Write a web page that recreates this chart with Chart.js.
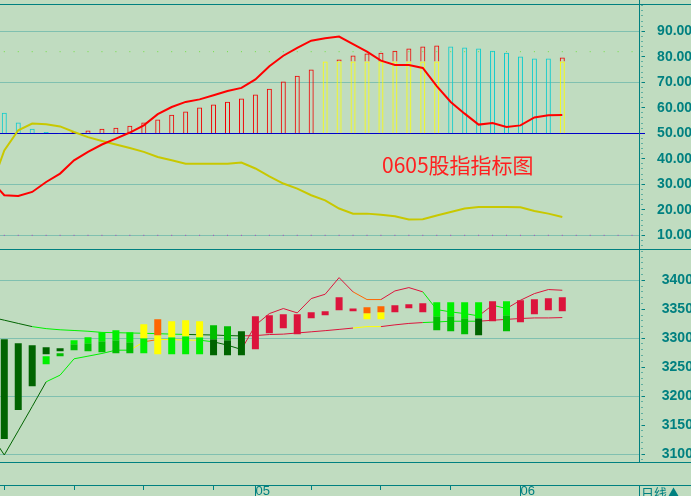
<!DOCTYPE html>
<html><head><meta charset="utf-8">
<script src="https://cdn.jsdelivr.net/npm/chart.js@4.4.1/dist/chart.umd.min.js"></script>
<style>
html,body{margin:0;padding:0;background:#C0DCC0;width:691px;height:496px;overflow:hidden;position:relative;}
canvas{position:absolute;left:0;}
.hl{position:absolute;left:0;width:691px;height:1px;background:#008080;}
.vl{position:absolute;left:639px;width:1px;background:#008080;}
#title{position:absolute;left:382px;top:154px;font:21px "Noto Sans CJK SC";color:#FF2020;white-space:nowrap;line-height:1;}
#period{position:absolute;left:641px;top:486px;font:13px "Noto Sans CJK SC";color:#008080;white-space:nowrap;line-height:1;}
</style></head>
<body>
<canvas id="cA" width="691" height="249" style="top:0"></canvas>
<canvas id="cB" width="691" height="212" style="top:250px"></canvas>
<canvas id="cC" width="691" height="34" style="top:462px"></canvas>
<div class="hl" style="top:4px"></div>
<div class="hl" style="top:249px"></div>
<div class="hl" style="top:462px"></div>
<div class="hl" style="top:485px"></div>
<div class="vl" style="top:0;height:462px"></div>
<div class="vl" style="top:485px;height:11px"></div>
<div id="title">0605股指指标图</div>
<div id="period">日线▲</div>
<script>
// ---------- DATA ----------
const barIdx  = [0,1,2,3,4,5,6,7,8,9,10,11,12,13,14,15,16,17,18,19,20,21,22,23,24,25,26,27,28,29,30,31,32,33,34,35,36,37,38,39,40];
const lineIdx = [-1].concat(barIdx);

// upper panel: oscillator bars (base 50) and two lines
const oscBars = [58.1,54.2,51.8,50.5,50.1,50.5,51.1,51.8,52.2,53.0,54.2,55.4,57.3,58.5,60.1,61.3,62.4,63.6,65.2,67.5,70.3,72.6,75.0,78.1,78.9,80.5,81.3,81.6,82.4,83.2,84.0,84.4,84.0,83.6,83.2,82.4,81.6,80.1,79.3,79.3,79.7];
const kLine = [31.9,25.7,25.4,27.0,30.9,34.2,39.4,42.7,45.6,47.9,50.3,53.1,57.5,60.3,62.3,63.3,64.9,66.6,67.8,71.1,76.3,80.4,83.5,86.3,87.3,87.9,85.0,82.0,78.5,76.8,76.8,75.6,68.5,62.3,57.7,53.4,54.0,52.5,53.1,56.2,57.1,57.2];
const dLine = [28.0,43.3,51.2,53.8,53.5,52.7,50.5,48.5,47.0,45.6,44.2,42.7,40.7,39.4,38.1,38.1,38.1,38.1,38.5,36.2,33.1,30.3,28.3,25.7,23.7,20.5,18.5,18.5,18.1,17.5,16.2,16.3,17.8,19.1,20.5,21.1,21.1,21.1,21.0,19.5,18.5,17.2];
const OSC_BASE = 50, OSC_CAP = 78.1;
const oscRefLevels = [82, 10];
const oscTickLabels = [10,20,30,40,50,60,70,80,90];
const oscGridLevels = [10,30,70,90];

// lower panel: price boxes (upper / lower parts) and two band lines
const upperBox = [[3126,3298],[3175.9,3291.4],[3217.2,3288],[3272.4,3284.5],[3277.6,3282.8],[3289.7,3296.6],[3291.4,3301.7],[3294.8,3310.3],[3296.6,3313.8],[3293.1,3310.3],[3300,3324.1],[3305.2,3332.8],[3301.7,3329.3],[3303.4,3331],[3301.7,3329.3],[3298.3,3322.4],[3296.6,3320.7],[3270.7,3312.1],[3281,3337.9],[3308.6,3339.7],[3317.2,3341.4],[3306.9,3341.4],[3334.5,3344.8],[3339.7,3346.6],[3348.3,3370.7],[3346.6,3351.2],[3343.1,3353.4],[3344.8,3355.2],[3344.8,3356.9],[3351.7,3358.6],[3344.8,3360.3],[3337.9,3362.1],[3337.9,3362.1],[3334.5,3362.1],[3334.5,3362.1],[3329.3,3363.8],[3339.7,3363.8],[3327.6,3365.5],[3341.4,3367.2],[3348.3,3369],[3346.6,3370.7]];
const upperState = "DDDDDBBBBBYOYYYGGDRRRRRRRROORRRBBBBRBRRRR";
const lowerBox = [null,null,null,[3255.2,3269],[3269,3274],[3279.3,3289.7],[3277.6,3291.4],[3275.9,3294.8],[3274.1,3296.6],[3274.1,3293.1],[3274.1,3300],[3272.4,3305.2],[3272.4,3301.7],[3272.4,3303.4],[3272.4,3301.7],[3270.7,3298.3],[3270.7,3296.6],null,null,null,null,null,null,null,null,null,[3332.8,3343.1],[3332.8,3344.8],null,null,null,[3313.8,3337.9],[3312.1,3337.9],[3306.9,3334.5],[3305.2,3334.5],null,[3312.1,3339.7],null,null,null,null];
const lowerState = "---BGGGGGGBYBBBDD---------YY---GGGD-G----";
const bandA = [3336.6,3331.1,3325.5,3320,3316.5,3314.5,3313.3,3312,3310,3309.5,3309,3308.5,3307.8,3307,3306.5,3306,3305.5,3304.5,3304,3304.5,3306.3,3307,3309,3311,3313,3315.2,3317.5,3320,3320,3323,3325.5,3327,3328,3329.3,3329.3,3329.3,3331,3332.5,3334,3335,3335,3335.6];
const bandAState = "DDDBBBBBBBBBBBDDDDRRRRRRRRYYRRRBBBBRRRRRRR";
const bandB = [3135,3098.3,3140,3182,3224.7,3236.2,3264.4,3269,3273.6,3279.3,3279.3,3293.7,3297.7,3297.7,3296.6,3296.6,3293.7,3288,3280.5,3322.4,3342.5,3351.2,3343.7,3368.4,3375.9,3404.6,3380,3366.7,3366.7,3381.6,3387.4,3380,3349.4,3345.4,3342.5,3338.5,3357,3351.2,3365.5,3377,3384,3382.8];
const bandBState = "DDDDBBBBBBYOYYYBDDRRRRRRRROORRRBBBBRBRRRRR";
const priceTickLabels = [3100,3150,3200,3250,3300,3350,3400];
const priceGridLevels = [3100,3200,3300,3400];

// date axis
const weekTicks = [0,5,10,15,18,22,27,32,37];
const monthTickIdx = [18,37];
const monthTickText = ['05','06'];

// ---------- STYLE ----------
const PAL = {D:'#006400', G:'#00BE00', B:'#00F000', Y:'#FFFF00', O:'#FF6600', R:'#DC143C'};
const TEAL = '#008080', GRID = '#80C0B0';
const XMIN = -0.308, XMAX = 45.534;
const A_MIN = 4.63, A_MAX = 100.3;
const B_MIN = 3086.2, B_MAX = 3452.3;
const AXIS_W = 51.5;
const labelFont = {family:'Liberation Sans', weight:'bold', size:14};

Chart.defaults.animation = false;

function xScale(){ return {type:'linear', min:XMIN, max:XMAX, display:false, offset:false, grid:{display:false, offset:false}}; }
function yScale(min, max, step, labelVals, gridVals, special, padding, fmt){
  const ticks = [];
  for (let v = Math.ceil(min/step)*step; v <= max; v += step) ticks.push(v);
  const isLabel = v => labelVals.includes(v);
  return {
    type:'linear', position:'right', min, max,
    afterBuildTicks: s => { s.ticks = ticks.map(v => ({value:v})); },
    afterFit: s => { s.width = AXIS_W; s.paddingTop = 0; s.paddingBottom = 0; },
    border:{display:false},
    grid:{
      display:true, drawTicks:true, tickLength:8, lineWidth:1, tickWidth:1,
      color: c => special && c.tick && c.tick.value === special.v ? special.color : (gridVals.includes(c.tick && c.tick.value) ? GRID : 'rgba(0,0,0,0)'),
      tickColor: c => special && c.tick && c.tick.value === special.v ? special.color : TEAL,
      tickBorderDash: c => (special && c.tick.value === special.v) ? [5,20] : (isLabel(c.tick.value) ? [3.5,20] : [1,20]),
      tickBorderDashOffset: c => (special && c.tick.value === special.v) ? 0 : (isLabel(c.tick.value) ? 22 : 19.5)
    },
    ticks:{autoSkip:false, padding, color:TEAL, font:labelFont,
      callback: v => isLabel(v) ? fmt(v) : ''}
  };
}
const baseOpts = (padTop, scales) => ({
  responsive:false, animation:false, events:[],
  layout:{padding:{top:padTop, left:0, right:0, bottom:0}},
  plugins:{legend:{display:false}, tooltip:{enabled:false}, title:{display:false}},
  scales
});

// ---------- UPPER PANEL ----------
const mainBars = [], mainCols = [], capBars = [];
oscBars.forEach((v, i) => {
  const prev = i > 0 ? oscBars[i-1] : Infinity;
  const x = barIdx[i];
  if (v <= prev) { mainBars.push({x, y:[OSC_BASE, v]}); mainCols.push('#10CCCC'); }
  else if (v < OSC_CAP) { mainBars.push({x, y:[OSC_BASE, v]}); mainCols.push('#F00000'); }
  else {
    mainBars.push({x, y:[OSC_BASE, OSC_CAP]}); mainCols.push('#FFFF00');
    if (v > OSC_CAP) capBars.push({x, y:[OSC_CAP, v]});
  }
});
const lineXY = arr => arr.map((y, i) => ({x: lineIdx[i], y}));
const refLine = (lvl, color, order) => ({
  type:'line', data:[{x:XMIN, y:lvl},{x:XMAX, y:lvl}], borderColor:color, borderWidth:1,
  borderDash:[1,12.95], borderDashOffset:10.15, pointRadius:0, order
});

new Chart(document.getElementById('cA'), {
  type:'bar',
  data:{datasets:[
    {type:'line', data:lineXY(kLine), borderColor:'#FF0000', borderWidth:2, pointRadius:0, tension:0, order:0},
    {type:'line', data:lineXY(dLine), borderColor:'#C8C800', borderWidth:2, pointRadius:0, tension:0, order:1},
    {type:'bar', data:mainBars, backgroundColor:'rgba(0,0,0,0)', borderColor:mainCols, borderWidth:1,
     borderSkipped:'start', barThickness:5, grouped:false, inflateAmount:0, order:3},
    {type:'bar', data:capBars, backgroundColor:'rgba(0,0,0,0)', borderColor:'#F00000', borderWidth:1,
     borderSkipped:'start', barThickness:5, grouped:false, inflateAmount:0, order:2},
    refLine(oscRefLevels[0], '#70E040', 4),
    refLine(oscRefLevels[1], '#B040C0', 5)
  ]},
  options: baseOpts(5, {
    x: xScale(),
    y: yScale(A_MIN, A_MAX, 2, oscTickLabels, oscGridLevels, {v:OSC_BASE, color:'#0000C8'}, 9.6, v => v.toFixed(2))
  })
});

// ---------- LOWER PANEL ----------
function boxSet(boxes, states, order){
  const data = [], cols = [];
  boxes.forEach((b, i) => { if (b) { data.push({x: barIdx[i], y: b}); cols.push(PAL[states[i]]); } });
  return {type:'bar', data, backgroundColor:cols, borderWidth:0, barThickness:7, grouped:false, inflateAmount:0, order};
}
const bandLine = (arr, states, order) => ({
  type:'line', data:lineXY(arr), borderWidth:1, pointRadius:0, tension:0, order,
  borderColor: PAL[states[0]],
  segment:{borderColor: c => PAL[states[c.p0DataIndex]]}
});
new Chart(document.getElementById('cB'), {
  type:'bar',
  data:{datasets:[
    boxSet(upperBox, upperState, 0),
    boxSet(lowerBox, lowerState, 1),
    bandLine(bandA, bandAState, 2),
    bandLine(bandB, bandBState, 3)
  ]},
  options: baseOpts(0, {
    x: xScale(),
    y: yScale(B_MIN, B_MAX, 10, priceTickLabels, priceGridLevels, null, 14.3, v => String(v))
  })
});

// ---------- DATE STRIP ----------
new Chart(document.getElementById('cC'), {
  type:'scatter',
  data:{datasets:[]},
  options:{
    responsive:false, animation:false, events:[],
    layout:{padding:{top:0, left:0, right:AXIS_W, bottom:0}},
    plugins:{legend:{display:false}, tooltip:{enabled:false}},
    scales:{
      x:{type:'linear', position:'bottom', min:XMIN, max:XMAX, offset:false,
        afterBuildTicks: s => { s.ticks = weekTicks.map(v => ({value:v})); },
        afterFit: s => { s.height = 11; s.paddingLeft = 0; s.paddingRight = 0; },
        border:{display:false},
        grid:{display:true, drawOnChartArea:false, drawTicks:true, tickLength:11, tickColor:TEAL, tickWidth:1,
          tickBorderDash: c => monthTickIdx.includes(c.tick.value) ? [] : [5,30]},
        ticks:{autoSkip:false, maxRotation:0, minRotation:0, align:'start', padding:-12, color:TEAL,
          font:{family:'Liberation Sans', size:13},
          callback: v => { const k = monthTickIdx.indexOf(v); return k >= 0 ? monthTickText[k] : ''; }}
      },
      y:{display:false}
    }
  }
});
</script>
</body></html>
